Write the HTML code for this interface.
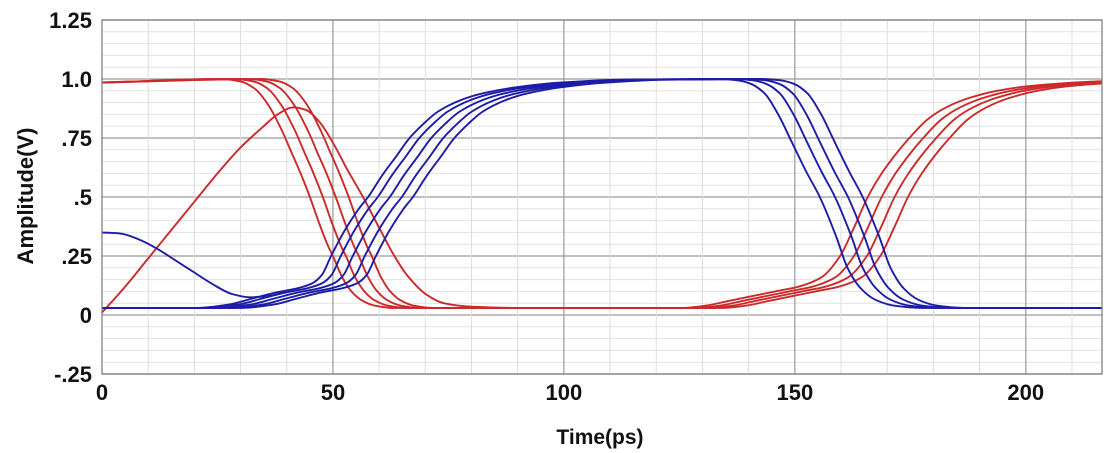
<!DOCTYPE html>
<html><head><meta charset="utf-8">
<style>
html,body{margin:0;padding:0;background:#fff;}
svg{display:block;font-family:"Liberation Sans",Arial,sans-serif;}
</style></head>
<body>
<svg id="chart" width="1116" height="453" viewBox="0 0 1116 453" xmlns="http://www.w3.org/2000/svg">
<defs><clipPath id="plotclip"><rect x="102" y="20" width="1000" height="354"/></clipPath></defs>
<g id="grid"></g>
<g id="series" clip-path="url(#plotclip)"></g>
<rect x="102" y="20" width="1000" height="354" fill="none" stroke="#777" stroke-width="1.2"/>
<g id="ticks"></g>
<text x="27" y="196" transform="rotate(-90 27 196)" text-anchor="middle" dominant-baseline="middle" font-size="22" font-weight="bold" fill="#111">Amplitude(V)</text>
<text x="600" y="444" text-anchor="middle" font-size="21" font-weight="bold" fill="#111">Time(ps)</text>
</svg>
<script>
// ---- data ----
const xTicks = [0, 50, 100, 150, 200];
const xTickLabels = ["0", "50", "100", "150", "200"];
const yTicks = [1.25, 1.0, 0.75, 0.5, 0.25, 0, -0.25];
const yTickLabels = ["1.25", "1.0", ".75", ".5", ".25", "0", "-.25"];
// edge templates (time relative to 50% crossing, value)
const redFallT = [-19, -15, -12, -9, -6, -4, -2, 0, 2, 4, 5, 7, 9, 11, 14, 18];
const redFallV = [1.0, 0.99, 0.96, 0.89, 0.78, 0.69, 0.6, 0.5, 0.39, 0.29, 0.25, 0.16, 0.1, 0.065, 0.04, 0.03];
const redRiseT = [-40, -35, -30, -25, -20, -15, -10, -6, -3, 0, 3, 6, 9, 13, 17, 22, 28, 35, 45, 55];
const redRiseV = [0.03, 0.04, 0.06, 0.08, 0.1, 0.12, 0.16, 0.25, 0.37, 0.5, 0.6, 0.68, 0.75, 0.83, 0.88, 0.92, 0.95, 0.97, 0.985, 0.995];
const blueRiseT = [-37, -30, -25, -20, -15, -12, -10, -8, -5, -2, 0, 3, 6, 9, 12, 15, 20, 25, 32, 42, 55];
const blueRiseV = [0.03, 0.045, 0.07, 0.095, 0.115, 0.135, 0.17, 0.25, 0.36, 0.45, 0.5, 0.59, 0.67, 0.75, 0.81, 0.86, 0.91, 0.94, 0.965, 0.985, 0.997];
const blueFallT = [-22, -18, -15, -12, -9, -6, -3, 0, 3.6, 6, 9, 12, 16, 22];
const blueFallV = [1.0, 0.995, 0.98, 0.94, 0.85, 0.73, 0.61, 0.5, 0.33, 0.2, 0.11, 0.065, 0.04, 0.03];
// 50% crossing times (ps) per curve
const redFallMids = [45, 47.8, 50.6, 53.4];
const redRiseMids = [165.8, 168.8, 171.6, 174.5];
const blueRiseMids = [57.6, 59.7, 62.3, 64.9, 67.3];
const blueFallMids = [155.4, 158.7, 161.5, 164.7];
// start-up transients
const redTransT = [0, 5, 10, 15, 20, 25, 30, 35, 38, 41.5, 44, 47, 50, 53, 56.5, 60, 63, 66, 70, 74, 80, 90, 133];
const redTransV = [0.01, 0.12, 0.24, 0.36, 0.48, 0.6, 0.71, 0.8, 0.85, 0.88, 0.87, 0.82, 0.73, 0.62, 0.5, 0.37, 0.26, 0.17, 0.09, 0.05, 0.035, 0.03, 0.03];
const blueTransT = [0, 4, 8, 12, 16, 20, 24, 28, 32, 36, 40];
const blueTransV = [0.35, 0.345, 0.32, 0.28, 0.23, 0.18, 0.13, 0.09, 0.075, 0.08, 0.1];

// ---- axes ----
const X0 = 102, X1 = 1102, Y0 = 374, Y1 = 20;
const tMin = 0, tMax = 216.5, vMin = -0.25, vMax = 1.25;
function xs(t) { return X0 + (t - tMin) / (tMax - tMin) * (X1 - X0); }
function ys(v) { return Y0 - (v - vMin) / (vMax - vMin) * (Y0 - Y1); }
const NS = "http://www.w3.org/2000/svg";
function mk(tag, attrs, parent) {
  const el = document.createElementNS(NS, tag);
  for (const k in attrs) el.setAttribute(k, attrs[k]);
  parent.appendChild(el);
  return el;
}
const grid = document.getElementById('grid');
for (let i = 0; i <= 30; i++) {
  const v = -0.25 + i * 0.05;
  const major = Math.abs((v / 0.25) - Math.round(v / 0.25)) < 1e-6;
  const l = mk('line', {x1: X0, x2: X1, y1: ys(v), y2: ys(v), stroke: major ? '#9a9a9a' : '#e2e2e2', 'stroke-width': major ? 1.2 : 1}, grid);
  
  
}
for (let t = 10; t < tMax; t += 10) {
  const major = t % 50 === 0;
  const l = mk('line', {x1: xs(t), x2: xs(t), y1: Y1, y2: Y0, stroke: major ? '#9a9a9a' : '#dedede', 'stroke-width': major ? 1.2 : 1}, grid);
  
  
}
const ticks = document.getElementById('ticks');
xTicks.forEach((t, i) => {
  const tx = mk('text', {x: xs(t), y: 400, 'text-anchor': 'middle', 'font-size': 22, 'font-weight': 'bold', fill: '#111'}, ticks);
  tx.textContent = xTickLabels[i];
  
  
});
yTicks.forEach((v, i) => {
  const tx = mk('text', {x: 92, y: ys(v) + 8, 'text-anchor': 'end', 'font-size': 22, 'font-weight': 'bold', fill: '#111'}, ticks);
  tx.textContent = yTickLabels[i];
  
  
});

// ---- series ----
const series = document.getElementById('series');
const RED = '#cc2a2a', BLUE = '#1c1ca6';
// monotone cubic (Fritsch-Carlson) path through points sorted by x
function draw(pts, color, name) {
  const P = pts.map(p => [xs(p[0]), ys(p[1])]);
  const n = P.length;
  const dx = [], sec = [];
  for (let i = 0; i < n - 1; i++) { dx.push(P[i + 1][0] - P[i][0]); sec.push((P[i + 1][1] - P[i][1]) / dx[i]); }
  const m = new Array(n);
  m[0] = sec[0]; m[n - 1] = sec[n - 2];
  for (let i = 1; i < n - 1; i++) {
    if (sec[i - 1] * sec[i] <= 0) m[i] = 0;
    else {
      const w1 = 2 * dx[i] + dx[i - 1], w2 = dx[i] + 2 * dx[i - 1];
      m[i] = (w1 + w2) / (w1 / sec[i - 1] + w2 / sec[i]);
    }
  }
  let d = 'M' + P[0][0].toFixed(1) + ',' + P[0][1].toFixed(1);
  for (let i = 0; i < n - 1; i++) {
    const h = dx[i] / 3;
    d += 'C' + (P[i][0] + h).toFixed(1) + ',' + (P[i][1] + m[i] * h).toFixed(1) + ' ' +
         (P[i + 1][0] - h).toFixed(1) + ',' + (P[i + 1][1] - m[i + 1] * h).toFixed(1) + ' ' +
         P[i + 1][0].toFixed(1) + ',' + P[i + 1][1].toFixed(1);
  }
  const p = mk('path', {d: d, fill: 'none', stroke: color, 'stroke-width': 1.9, 'stroke-linejoin': 'round'}, series);
  
  
}
function shifted(T, V, mid) { return T.map((t, i) => [t + mid, V[i]]); }
redFallMids.forEach((fm, i) => {
  const pts = [[0, 0.985]].concat(shifted(redFallT, redFallV, fm), shifted(redRiseT, redRiseV, redRiseMids[i]));
  draw(pts, RED, 'red-trace');
});
draw(redTransT.map((t, i) => [t, redTransV[i]]), RED, 'red-startup-trace');
blueRiseMids.forEach((rm, i) => {
  let pts = [[0, 0.03]].concat(shifted(blueRiseT, blueRiseV, rm));
  if (i < blueFallMids.length) pts = pts.concat(shifted(blueFallT, blueFallV, blueFallMids[i]), [[tMax + 5, 0.03]]);
  else pts = pts.concat([[134, 1.0]]);
  draw(pts, BLUE, 'blue-trace');
});
draw(blueTransT.map((t, i) => [t, blueTransV[i]]), BLUE, 'blue-startup-trace');
</script>
</body></html>
